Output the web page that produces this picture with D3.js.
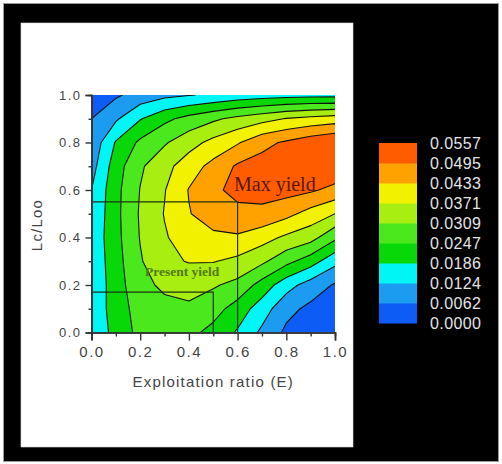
<!DOCTYPE html>
<html>
<head>
<meta charset="utf-8">
<script src="https://cdn.jsdelivr.net/npm/d3@7"></script>
<style>
  html, body { margin: 0; padding: 0; background: #fff; }
  svg { display: block; }
</style>
</head>
<body>
<div id="main-div"></div>
<script>
// yield isopleth grid: rows are Lc/Loo, columns are exploitation ratio E
var exploitation = [0, 0.1, 0.2, 0.3, 0.4, 0.5, 0.6, 0.7, 0.8, 0.9, 1.0];
var lcRatio = [0, 0.1, 0.2, 0.3, 0.4, 0.5, 0.6, 0.7, 0.8, 0.9, 1.0];

var yieldRows = [
  [0.0142, 0.0205, 0.0266, 0.0291, 0.0264, 0.0228, 0.0179, 0.0111, 0.0050, 0.0022, 0.0000],
  [0.0149, 0.0210, 0.0277, 0.0303, 0.0297, 0.0272, 0.0220, 0.0155, 0.0080, 0.0048, 0.0028],
  [0.0149, 0.0210, 0.0303, 0.0313, 0.0334, 0.0316, 0.0291, 0.0223, 0.0149, 0.0096, 0.0056],
  [0.0139, 0.0223, 0.0303, 0.0359, 0.0374, 0.0374, 0.0356, 0.0322, 0.0266, 0.0215, 0.0142],
  [0.0142, 0.0228, 0.0312, 0.0365, 0.0402, 0.0421, 0.0424, 0.0396, 0.0359, 0.0333, 0.0260],
  [0.0133, 0.0230, 0.0316, 0.0374, 0.0430, 0.0461, 0.0483, 0.0480, 0.0452, 0.0409, 0.0371],
  [0.0124, 0.0229, 0.0311, 0.0368, 0.0436, 0.0486, 0.0508, 0.0517, 0.0517, 0.0504, 0.0477],
  [0.0099, 0.0219, 0.0300, 0.0351, 0.0404, 0.0452, 0.0504, 0.0520, 0.0532, 0.0539, 0.0545],
  [0.0080, 0.0191, 0.0259, 0.0302, 0.0347, 0.0389, 0.0427, 0.0477, 0.0504, 0.0532, 0.0554],
  [0.0062, 0.0115, 0.0182, 0.0232, 0.0268, 0.0298, 0.0326, 0.0350, 0.0374, 0.0390, 0.0402],
  [0.0019, 0.0053, 0.0087, 0.0108, 0.0121, 0.0133, 0.0149, 0.0158, 0.0164, 0.0167, 0.0167]
];

// contour levels (legend labels), low to high
var levels = [0.0000, 0.0062, 0.0124, 0.0186, 0.0247, 0.0309, 0.0371, 0.0433, 0.0495, 0.0557];
var bandColors = ["#0d5cf5", "#1c9cf0", "#00f5f5", "#08d808", "#4ae81c",
                  "#a8ee10", "#f2f200", "#ffa200", "#ff5c00"];

var xTicks = [0, 0.2, 0.4, 0.6, 0.8, 1.0];
var yTicks = [0, 0.2, 0.4, 0.6, 0.8, 1.0];
var minorTicks = [0.1, 0.3, 0.5, 0.7, 0.9];

// present and maximum yield markers
var markerE = [0.5, 0.6];
var markerLc = [0.17, 0.55];

var W = 502, H = 464;
var plot = { left: 91.5, right: 335, top: 95, bottom: 332.5 };

var svg = d3.select("#main-div").append("svg")
  .attr("width", W).attr("height", H);

// black frame and white panel
svg.append("rect").attr("x", 3.5).attr("y", 3.5).attr("width", 495).attr("height", 458)
  .attr("fill", "#000").attr("stroke", "#9a9a9a").attr("stroke-width", 1);
svg.append("rect").attr("x", 21).attr("y", 23).attr("width", 332).attr("height", 424)
  .attr("fill", "#fff").attr("stroke", "#ddd").attr("stroke-width", 0.6);

var x = d3.scaleLinear().domain([0, 1]).range([plot.left, plot.right]);
var y = d3.scaleLinear().domain([0, 1]).range([plot.bottom, plot.top]);

// grid coords from d3.contours: value i sits at i + 0.5
var gx = d3.scaleLinear().domain([0.5, exploitation.length - 0.5])
  .range([x(exploitation[0]), x(exploitation[exploitation.length - 1])]);
var gy = d3.scaleLinear().domain([0.5, lcRatio.length - 0.5])
  .range([y(lcRatio[0]), y(lcRatio[lcRatio.length - 1])]);

var proj = d3.geoTransform({
  point: function (px, py) { this.stream.point(gx(px), gy(py)); }
});
var path = d3.geoPath(proj);

var values = [];
yieldRows.forEach(function (row) { row.forEach(function (v) { values.push(v); }); });

var contours = d3.contours()
  .size([exploitation.length, lcRatio.length])
  .thresholds(levels.slice(1, levels.length - 1))(values);

svg.append("clipPath").attr("id", "plotClip")
  .append("rect")
  .attr("x", plot.left).attr("y", plot.top)
  .attr("width", plot.right - plot.left).attr("height", plot.bottom - plot.top);

var g = svg.append("g").attr("clip-path", "url(#plotClip)");

g.append("rect")
  .attr("x", plot.left).attr("y", plot.top)
  .attr("width", plot.right - plot.left).attr("height", plot.bottom - plot.top)
  .attr("fill", bandColors[0]);

g.selectAll("path.band")
  .data(contours)
  .enter().append("path")
  .attr("class", "band")
  .attr("d", path)
  .attr("fill", function (d, i) { return bandColors[i + 1]; })
  .attr("stroke", "#111")
  .attr("stroke-width", 1.1)
  .attr("stroke-linejoin", "round");

// marker lines
markerE.forEach(function (e, i) {
  g.append("path")
    .attr("d", "M" + x(0) + "," + y(markerLc[i]) + "H" + x(e) + "V" + y(0))
    .attr("fill", "none")
    .attr("stroke", "#1e3010")
    .attr("stroke-width", 1.2);
});

g.append("text")
  .attr("x", 234).attr("y", 191)
  .attr("font-family", "Liberation Serif, serif")
  .attr("font-size", 20)
  .attr("fill", "#5a1600")
  .text("Max yield");

g.append("text")
  .attr("x", 145).attr("y", 276)
  .attr("font-family", "Liberation Serif, serif")
  .attr("font-size", 13.5)
  .attr("font-weight", "bold")
  .attr("fill", "#4f7a10")
  .text("Present yield");

// axes
var fmt = d3.format(".1f");
var xAxis = svg.append("g").attr("transform", "translate(0," + plot.bottom + ")")
  .call(d3.axisBottom(x).tickValues(xTicks).tickFormat(fmt).tickSize(8).tickPadding(6));
var xMinor = svg.append("g").attr("transform", "translate(0," + plot.bottom + ")")
  .call(d3.axisBottom(x).tickValues(minorTicks).tickFormat("").tickSize(4));
var yAxis = svg.append("g").attr("transform", "translate(" + plot.left + ",0)")
  .call(d3.axisLeft(y).tickValues(yTicks).tickFormat(fmt).tickSize(6).tickPadding(4));
var yMinor = svg.append("g").attr("transform", "translate(" + plot.left + ",0)")
  .call(d3.axisLeft(y).tickValues(minorTicks).tickFormat("").tickSize(3));

svg.selectAll(".domain").attr("stroke", "#333").attr("stroke-width", 1.6);
svg.selectAll(".tick line").attr("stroke", "#333").attr("stroke-width", 1.4);
svg.selectAll(".tick text")
  .attr("font-family", "Liberation Sans, sans-serif")
  .attr("fill", "#444")
  .attr("letter-spacing", "1.5px");
xAxis.selectAll(".tick text").attr("font-size", 15);
yAxis.selectAll(".tick text").attr("font-size", 13);

svg.append("text")
  .attr("x", (plot.left + plot.right) / 2).attr("y", 387)
  .attr("text-anchor", "middle")
  .attr("font-family", "Liberation Sans, sans-serif")
  .attr("font-size", 15)
  .attr("letter-spacing", "1.2px")
  .attr("fill", "#444")
  .text("Exploitation ratio (E)");

svg.append("text")
  .attr("transform", "translate(42,225) rotate(-90)")
  .attr("text-anchor", "middle")
  .attr("font-family", "Liberation Sans, sans-serif")
  .attr("font-size", 15)
  .attr("letter-spacing", "1.2px")
  .attr("fill", "#444")
  .text("Lc/Loo");

// legend
var legend = { x: 379, top: 143, w: 38, band: 20 };
var lg = svg.append("g");
lg.selectAll("rect")
  .data(bandColors)
  .enter().append("rect")
  .attr("x", legend.x)
  .attr("y", function (d, i) { return legend.top + (bandColors.length - 1 - i) * legend.band; })
  .attr("width", legend.w)
  .attr("height", legend.band + 0.5)
  .attr("fill", function (d) { return d; });

lg.selectAll("text")
  .data(levels)
  .enter().append("text")
  .attr("x", 430)
  .attr("y", function (d, i) { return legend.top + (levels.length - 1 - i) * legend.band; })
  .attr("dy", "0.36em")
  .attr("font-family", "Liberation Sans, sans-serif")
  .attr("font-size", 16)
  .attr("letter-spacing", "0.4px")
  .attr("fill", "#e4e4e4")
  .text(function (d) { return d.toFixed(4); });
</script>
</body>
</html>
